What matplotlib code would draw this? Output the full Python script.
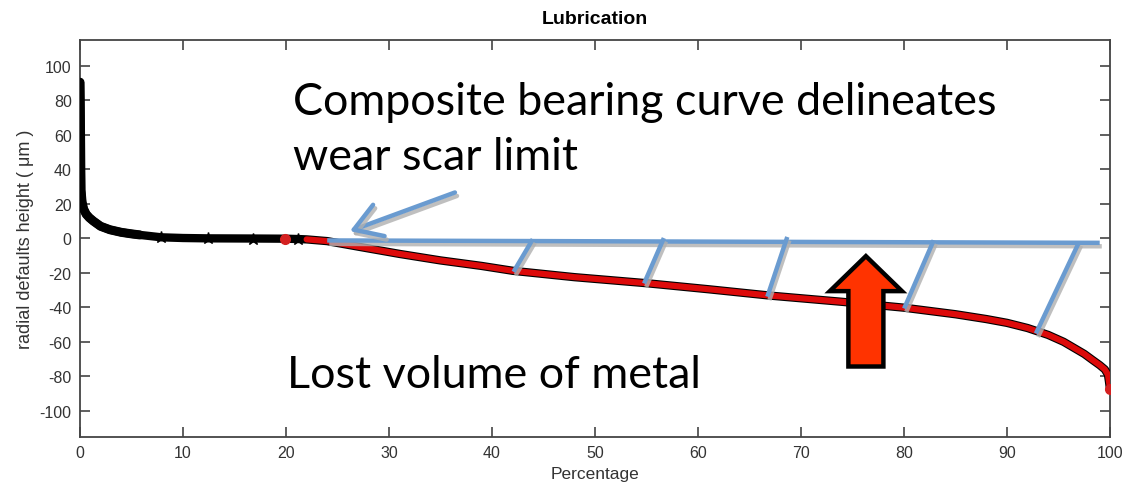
import matplotlib
matplotlib.use('Agg')
import matplotlib.pyplot as plt
import matplotlib.patheffects as pe
from matplotlib.patches import FancyArrow

plt.rcParams['axes.unicode_minus'] = False

# ---------------------------------------------
# bearing curve data (percentage vs height, um)
# ---------------------------------------------
peak_x = [0.0, 0.03, 0.06, 0.08, 0.1, 0.2, 0.35, 0.6, 0.9, 1.3, 2.0, 2.9, 4.0, 5.0, 5.8, 7.9, 10.0, 12.4, 16.8, 19.9, 21.2]
peak_y = [90.5, 75.0, 55.0, 40.0, 28.0, 21.0, 17.0, 14.0, 12.0, 10.0, 7.0, 5.0, 3.5, 2.6, 2.0, 0.6, 0.2, 0.0, -0.1, -0.2, -0.4]

worn_x = [19.9, 22.0, 24.0, 27.0, 31.0, 35.0, 39.0, 42.0, 48.0, 55.0, 61.0, 67.0, 74.0, 80.0,
          85.0, 88.0, 90.0, 92.0, 94.0, 95.5, 96.5, 97.5, 98.3, 99.0, 99.5, 99.8, 99.9, 100.0]
worn_y = [-0.2, -0.6, -1.6, -4.8, -9.0, -12.8, -16.0, -18.8, -22.5, -26.0, -29.5, -33.2, -36.8, -40.2,
          -44.0, -46.8, -49.0, -52.0, -56.0, -60.0, -63.5, -67.0, -70.5, -73.5, -76.0, -79.0, -83.0, -87.5]

# sparse samples on the flat part show up as single markers
marker_x = [7.9, 12.4, 16.8, 21.2]
marker_y = [0.6, 0.0, -0.1, -0.4]

# wear scar limit line and the hatch lines down to the curve
limit_x = [24.0, 99.0]
limit_y = [-1.2, -2.6]
hatch_top_x = [43.85, 56.6, 68.6, 82.8, 96.9]
hatch_top_y = [-1.6, -1.0, -0.4, -2.3, -3.4]
hatch_bot_x = [42.2, 54.85, 66.8, 80.1, 92.9]
hatch_bot_y = [-18.3, -25.0, -32.6, -39.5, -54.0]

xticks = list(range(0, 101, 10))
yticks = list(range(-100, 101, 20))

blue = '#6A9BD0'
grey = '#333333'

fig = plt.figure(figsize=(11.36, 4.85), dpi=100)
ax = fig.add_axes([80 / 1136, 47.3 / 485, 1030 / 1136, 396.7 / 485])

# black full curve underneath, worn part in red on top
ax.plot(peak_x[:15], peak_y[:15], color='black', lw=6.5, solid_capstyle='round', zorder=3)
ax.plot(peak_x + worn_x[1:], peak_y + worn_y[1:], color='black', lw=6.0,
        solid_capstyle='round', zorder=3)
ax.plot(marker_x, marker_y, ls='none', marker='*', ms=9, color='black', zorder=4)
ax.plot(worn_x[1:], worn_y[1:], color='#dd0a0a', lw=4.4, solid_capstyle='round', zorder=4)
ax.plot([worn_x[0], worn_x[-1]], [worn_y[0], worn_y[-1]], ls='none', marker='o', ms=7,
        color='#d42020', zorder=4)

# wear scar limit overlay
shadow = [pe.SimpleLineShadow(offset=(1.5, -2.5), shadow_color='#b0b0b0', alpha=0.8), pe.Normal()]
ax.plot(limit_x, limit_y, color=blue, lw=3.2, zorder=6, path_effects=shadow, solid_capstyle='butt')
for tx, ty, bx, by in zip(hatch_top_x, hatch_top_y, hatch_bot_x, hatch_bot_y):
    ax.plot([bx, tx], [by, ty], color=blue, lw=3.2, zorder=6, path_effects=shadow)

ax.annotate('', xy=(26.2, 4.2), xytext=(36.4, 26.6),
            arrowprops=dict(arrowstyle='->,head_length=0.8,head_width=0.5', color=blue, lw=3.2,
                            mutation_scale=24, shrinkA=0, shrinkB=0,
                            path_effects=shadow),
            zorder=6)

# red block arrow pointing up at the lost volume
ax.add_patch(FancyArrow(76.3, -74.3, 0, 64.0, width=3.4, head_width=7.0, head_length=20.3,
                        length_includes_head=True, facecolor='#ff3300', edgecolor='black',
                        lw=3.2, joinstyle='miter', zorder=7))

note_font = dict(fontsize=32.3, family='Lato', va='baseline', ha='left', zorder=8)
ax.text(20.7, 72.1, 'Composite bearing curve delineates', **note_font)
ax.text(20.7, 40.1, 'wear scar limit', **note_font)
ax.text(20.1, -85.9, 'Lost volume of metal', **note_font)

ax.set_xlim(0, 100)
ax.set_ylim(-115, 115)
ax.set_xticks(xticks)
ax.set_yticks(yticks)
ax.tick_params(direction='in', length=7.5, width=1.2, top=True, right=True,
               labelsize=11.5, labelcolor=grey, color='#444444', pad=6)
for lab in ax.get_xticklabels() + ax.get_yticklabels():
    lab.set_family('Liberation Sans')
for s in ax.spines.values():
    s.set_color('#444444')
    s.set_linewidth(1.3)

ax.set_title('Lubrication', fontsize=14, fontweight='bold', family='Liberation Sans', pad=12)
ax.set_xlabel('Percentage', fontsize=12.5, color=grey, family='Liberation Sans', labelpad=4)
ax.set_ylabel('radial defaults height ( μm )', fontsize=13, color=grey,
              family='Liberation Sans', labelpad=4)

fig.savefig('out.png', dpi=100)
